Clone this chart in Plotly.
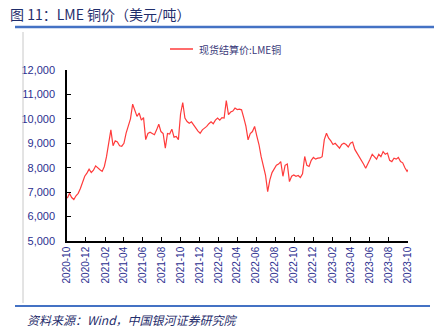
import plotly.graph_objects as go
import pandas as pd

# ---- data (weekly readings, USD/ton) ----
start_date = "2020-10-02"
copper_prices = [
    6750, 6950, 6780, 6700, 6850, 6950, 7150, 7450, 7650, 7780,
    7940, 7800, 7900, 8075, 7980, 7920, 7850, 8050, 8450, 9100,
    9550, 8900, 9100, 9050, 8900, 8880, 9000, 9420, 9750, 10000,
    10600, 10350, 10100, 10240, 9950, 10050, 9150, 9400, 9450, 9400,
    9350, 9550, 9780, 9480, 9400, 8800, 9400, 9380, 9580, 9250,
    9280, 9150, 10200, 10670, 10030, 9890, 9820, 9880, 9750, 9600,
    9500, 9410, 9550, 9620, 9690, 9800, 9880, 9800, 9950, 10030,
    9950, 10050, 10030, 10750, 10170, 10280, 10320, 10440, 10380, 10400,
    10370, 10050, 9700, 9140, 9400, 9480, 9690, 9300, 8950, 8450,
    8050, 7700, 7020, 7500, 7800, 7950, 8100, 8150, 8250, 7650,
    8100, 8150, 7430, 7650, 7700, 7650, 7680, 7600, 7750, 8460,
    8100, 8050, 8300, 8420, 8350, 8390, 8400, 8450, 9150, 9410,
    9210, 9100, 8950, 9000, 8900, 8800, 8950, 9000, 8950, 8850,
    9000, 9050, 8750, 8600, 8500, 8350, 8150, 7980, 8200, 8350,
    8550, 8450, 8350, 8550, 8450, 8660, 8550, 8600, 8300, 8250,
    8390, 8350, 8420, 8250, 8200, 8000, 7850, 7980,
]
dates = pd.date_range(start_date, periods=len(copper_prices), freq="7D")

tick_labels = [
    "2020-10", "2020-12", "2021-02", "2021-04", "2021-06", "2021-08",
    "2021-10", "2021-12", "2022-02", "2022-04", "2022-06", "2022-08",
    "2022-10", "2022-12", "2023-02", "2023-04", "2023-06", "2023-08",
    "2023-10",
]
y_ticks = [5000, 6000, 7000, 8000, 9000, 10000, 11000, 12000]
series_name = "现货结算价:LME铜"
title_text = "图 11：LME 铜价（美元/吨）"
source_text = "资料来源：Wind，中国银河证券研究院"

# ---- layout geometry ----
W, H = 434, 328
L, R, T, B = 67, 408, 70, 241
def px(x):
    return (x - L) / (R - L)
def py(y):
    return (B - y) / (B - T)

navy = "#2B2F8F"
line_red = "#FF3B3B"

fig = go.Figure()
fig.add_trace(go.Scatter(
    x=dates, y=copper_prices, mode="lines",
    line=dict(color=line_red, width=1.2),
    name=series_name, showlegend=False,
))

fig.update_layout(
    width=W, height=H,
    margin=dict(l=L, r=W - R, t=T, b=H - B, pad=0),
    paper_bgcolor="white", plot_bgcolor="white",
    font=dict(family="Liberation Sans, Arial", color=navy),
    xaxis=dict(
        range=["2020-10-01", "2023-10-02"],
        tickvals=[pd.Timestamp(t + "-01") for t in tick_labels],
        ticktext=tick_labels,
        tickangle=-90,
        tickfont=dict(size=10, color=navy, family="Liberation Sans, Arial"),
        showline=True, linecolor="#000000", linewidth=1.5,
        ticks="inside", ticklen=4, tickcolor="#000000", tickwidth=1,
        showgrid=False, zeroline=False,
    ),
    yaxis=dict(
        range=[5000, 12000],
        tickvals=y_ticks,
        tickformat=",",
        tickfont=dict(size=11, color=navy, family="Liberation Sans, Arial"),
        showline=True, linecolor="#000000", linewidth=1.5,
        ticks="inside", ticklen=4, tickcolor="#000000", tickwidth=1,
        showgrid=False, zeroline=False,
        ticklabelstandoff=8,
    ),
    showlegend=False,
)

shapes = [
    # top blue rule
    dict(type="line", xref="paper", yref="paper", x0=px(15), x1=px(434), y0=py(27), y1=py(27),
         line=dict(color="#4472C4", width=2.5)),
    # bottom blue rule
    dict(type="line", xref="paper", yref="paper", x0=px(15), x1=px(430), y0=py(306), y1=py(306),
         line=dict(color="#4472C4", width=2)),
    # faint left border
    dict(type="line", xref="paper", yref="paper", x0=px(23), x1=px(23), y0=py(32), y1=py(303),
         line=dict(color="#C8C8C8", width=1)),
    # legend sample line
    dict(type="line", xref="paper", yref="paper", x0=px(170), x1=px(193), y0=py(49), y1=py(49),
         line=dict(color=line_red, width=1.5)),
]
fig.update_layout(shapes=shapes)

fig.add_annotation(
    text=title_text, xref="paper", yref="paper", x=px(8), y=py(14),
    xanchor="left", yanchor="middle", showarrow=False,
    font=dict(size=14, color="#1F2D6B", family="Noto Sans CJK SC"),
)
fig.add_annotation(
    text=series_name, xref="paper", yref="paper", x=px(197), y=py(49),
    xanchor="left", yanchor="middle", showarrow=False,
    font=dict(size=10, color="#3A3A7A", family="Noto Sans CJK SC"),
)
fig.add_annotation(
    text="<i>" + source_text + "</i>", xref="paper", yref="paper", x=px(25), y=py(319),
    xanchor="left", yanchor="middle", showarrow=False,
    font=dict(size=12, color="#1F2D6B", family="Noto Sans CJK SC"),
)

fig.write_html("out.html")
